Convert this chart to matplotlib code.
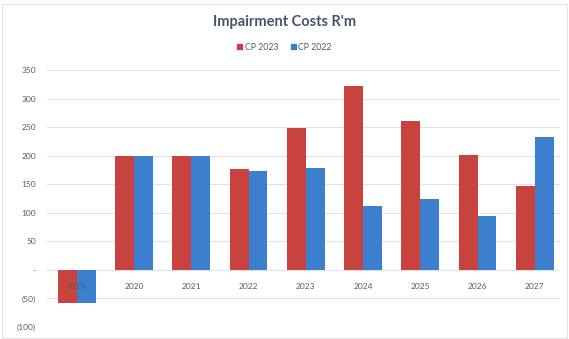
import matplotlib
matplotlib.use("Agg")
from matplotlib import pyplot as plt
from matplotlib.patches import Rectangle, Patch
import numpy as np

years = ["2019", "2020", "2021", "2022", "2023", "2024", "2025", "2026", "2027"]
cp_2023 = [-58, 200, 200, 176, 248, 322, 260, 201, 147]
cp_2022 = [-58, 200, 200, 173, 178, 112, 124, 95, 233]
y_ticks = [-100, -50, 0, 50, 100, 150, 200, 250, 300, 350]

RED = "#C8423E"
BLUE = "#3D7FCF"
TEXT = "#595959"

plt.rcParams["font.family"] = ["Lato", "DejaVu Sans"]


def money_fmt(v):
    if v == 0:
        return "-"
    if v < 0:
        return f"({abs(v)})"
    return str(v)


fig = plt.figure(figsize=(5.69, 3.39), dpi=100, facecolor="white")
fig.patches.append(Rectangle((0.003, 0.004), 0.994, 0.985, transform=fig.transFigure,
                             fill=False, edgecolor="#E3E3E3", lw=0.8))

ax = fig.add_axes([47 / 569, 12 / 339, 513 / 569, 257 / 339])
x = np.arange(len(years))
w = 0.33
ax.bar(x - w / 2, cp_2023, width=w, color=RED, zorder=3)
ax.bar(x + w / 2, cp_2022, width=w, color=BLUE, zorder=3)

ax.set_xlim(-0.52, len(years) - 0.56)
ax.set_ylim(-100, 350)
ax.set_yticks(y_ticks)
ax.set_yticklabels([money_fmt(v) for v in y_ticks])
ax.tick_params(axis="y", length=0, labelsize=6, labelcolor=TEXT, pad=8)
ax.set_xticks([])
ax.grid(axis="y", color="#E3E3E3", lw=0.8, zorder=0)
for s in ax.spines.values():
    s.set_visible(False)

# category labels sit just under the zero line
for i, yr in enumerate(years):
    ax.annotate(yr, (i, 0), xytext=(0, -12), textcoords="offset points",
                ha="center", va="center", fontsize=6, color=TEXT, zorder=4)

fig.text(0.5, 1 - 22 / 339, "Impairment Costs R'm", ha="center", va="center",
         fontsize=10.5, fontweight="bold", color="#44546A")

handles = [Patch(color=RED, label="CP 2023"), Patch(color=BLUE, label="CP 2022")]
fig.legend(handles=handles, loc="center", bbox_to_anchor=(0.5, 1 - 47 / 339), ncol=2,
           frameon=False, fontsize=6.3, labelcolor=TEXT, handlelength=0.6,
           handleheight=0.6, handletextpad=0.3, columnspacing=1.4)

fig.savefig("out.png", dpi=100)
